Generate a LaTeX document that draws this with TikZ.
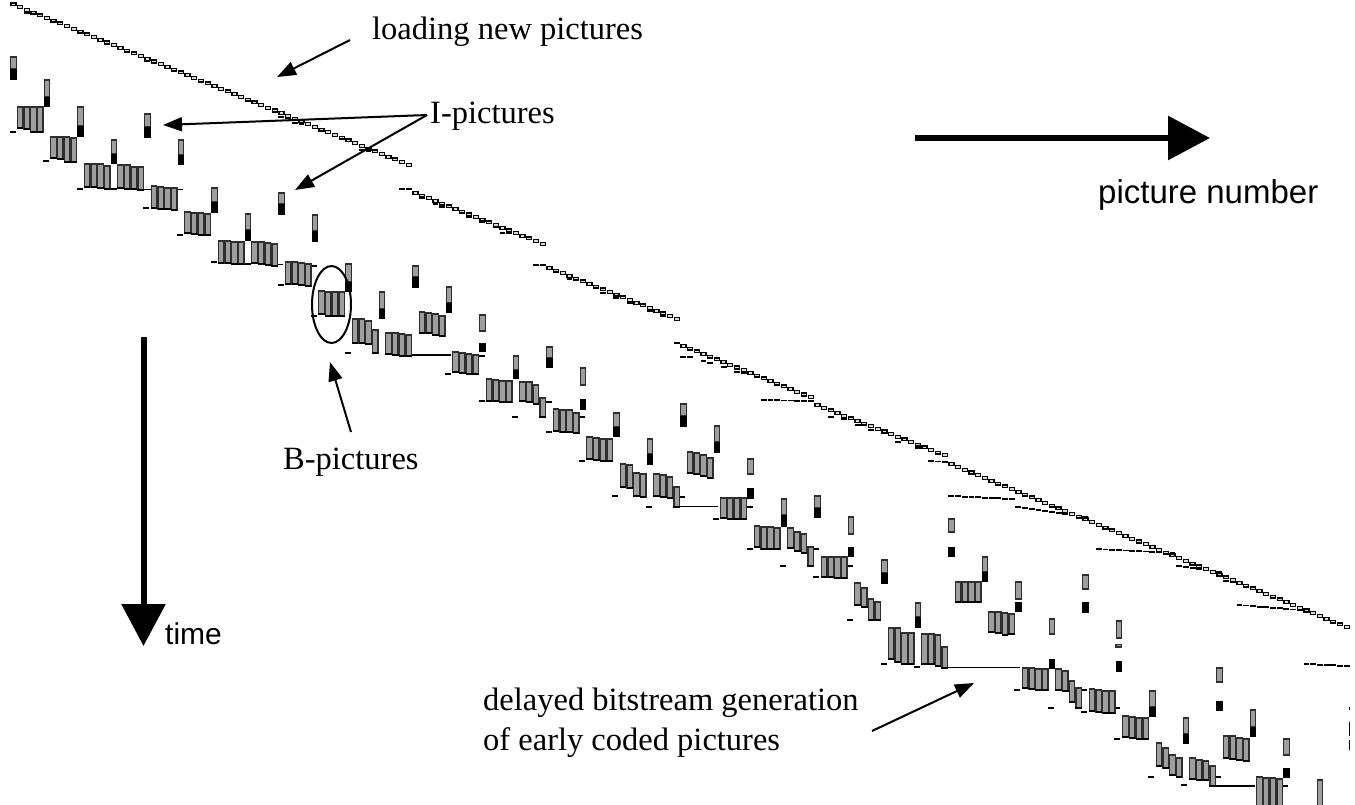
\documentclass[tikz,border=0pt]{standalone}
\usepackage{fontspec}
\setmainfont{Liberation Serif}
\newfontfamily\labelsans{Liberation Sans}
\usetikzlibrary{arrows.meta}
\definecolor{barfill}{gray}{0.62}
\definecolor{baredge}{gray}{0.18}
\definecolor{loadfill}{gray}{0.86}

\tikzset{
  bbar/.style={fill=barfill, draw=baredge, line width=1.2pt},
  bbot/.style={draw=black, line width=1.8pt},
  lrect/.style={fill=loadfill, draw=black, line width=1.25pt},
  bartick/.style={draw=black, line width=1.7pt},
  notearrow/.style={draw=black, line width=2pt, -{Triangle[length=19pt,width=14pt]}},
  bigarrow/.style={draw=black, line width=6pt, -{Triangle[length=42pt,width=43pt]}},
  serlabel/.style={font=\fontsize{32.5}{38}\selectfont, inner sep=0pt, anchor=base west},
  sanslabel/.style={font=\labelsans\fontsize{33}{38}\selectfont, inner sep=0pt, anchor=base west},
}

% I/P picture: grey coding interval on top, black output interval below
\newcommand\PBar[5]{%
  \pgfmathsetmacro\px{10+33.5*#1}%
  \draw[bbar] (\px+0.6,#2) rectangle (\px+6.1,#3);
  \fill[black] (\px+0.1,#4) rectangle (\px+6.6,#5);
}
% one B picture bar at left edge #1
\newcommand\BBar[3]{%
  \draw[bbar] (#1+0.6,#2) rectangle (#1+6.1,#3);
  \draw[bbot] (#1+0.1,#3) -- (#1+6.6,#3);
}
% four B pictures following I/P picture number 5*#1
\newcommand\BGrp[9]{%
  \pgfmathsetmacro\bxa{10+33.5*#1+6.7}%
  \pgfmathsetmacro\bxb{10+33.5*#1+13.4}%
  \pgfmathsetmacro\bxc{10+33.5*#1+20.1}%
  \pgfmathsetmacro\bxd{10+33.5*#1+26.8}%
  \BBar{\bxa}{#2}{#3}\BBar{\bxb}{#4}{#5}\BBar{\bxc}{#6}{#7}\BBar{\bxd}{#8}{#9}%
}
\newcommand\Tick[3]{\draw[bartick] (#1,#3) -- (#2,#3);}
% short mark under picture number #1
\newcommand\SDash[2]{\pgfmathsetmacro\sx{10+6.7*#1}\draw[bartick] (\sx+0.4,#2) -- (\sx+6.3,#2);}
% run of loading rectangles: first, last, top y of first, step
\newcommand\LoadRun[4]{%
  \foreach \i in {#1,...,#2}{%
    \pgfmathsetmacro\lx{10+6.7*\i}\pgfmathsetmacro\ly{#3+#4*(\i-#1)}%
    \draw[lrect] (\lx+0.9,\ly+0.5) rectangle (\lx+5.9,\ly+3.3);}}
% run of marks: first, last, y of first, y of last
\newcommand\DashRun[4]{%
  \foreach \i in {#1,...,#2}{%
    \pgfmathsetmacro\ldy{#3+(#4-#3)*(\i-#1)/max(1,#2-#1)}\SDash{\i}{\ldy}}}

\begin{document}
\begin{tikzpicture}[x=1pt,y=-1pt]
\useasboundingbox (0,0) rectangle (1355,804);

% ---- bitstream marks below the loading staircase
\SDash{2}{13}\SDash{3}{13.5}\SDash{20}{61}\SDash{31}{89.5}\SDash{38}{109.5}\SDash{39}{111}
\SDash{40}{117}\SDash{41}{118}\SDash{42}{123}\SDash{43}{124}\SDash{52}{150}\SDash{53}{151}
\DashRun{58}{59}{189}{189}
\SDash{61}{198}\SDash{63}{204}\SDash{64}{207}\SDash{68}{217}\SDash{70}{222}\SDash{72}{227}\SDash{73}{233}\SDash{74}{233}
\DashRun{78}{79}{265}{265}
\SDash{81}{271}\SDash{83}{279}\SDash{84}{279}\SDash{88}{293}\SDash{90}{298}\SDash{92}{303}\SDash{94}{306}\SDash{95}{311}\SDash{97}{316}
\SDash{99}{343}
\SDash{100}{357}\SDash{101}{357}\SDash{103}{361}\SDash{104}{363}\SDash{106}{367}\SDash{108}{372}\SDash{109}{373}\SDash{111}{377}
\DashRun{112}{119}{400}{401}
\SDash{121}{408}\SDash{122}{417}\SDash{124}{419}\SDash{126}{425}\SDash{128}{430}\SDash{130}{432}\SDash{132}{442}\SDash{135}{448}
\DashRun{137}{139}{461}{462}
\DashRun{140}{149}{496}{499}
\DashRun{150}{160}{507}{517}
\DashRun{162}{173}{549}{553}
\DashRun{174}{180}{566}{572}
\SDash{181}{581}\SDash{182}{582}
\DashRun{183}{192}{605}{610}
\DashRun{193}{199}{664}{666}

% ---- loading new pictures
\LoadRun{0}{59}{2.5}{2.72}
\LoadRun{60}{79}{191}{2.68}
\LoadRun{80}{99}{266}{2.68}
\LoadRun{100}{119}{344}{2.7}
\LoadRun{120}{139}{403.3}{2.63}
\LoadRun{140}{199}{462.3}{2.76}

% ---- marks between the picture bars
\Tick{10}{16}{132}\Tick{43}{49}{161}\Tick{77}{83}{189}\Tick{110}{117}{189}\Tick{143}{183}{189.5}
\Tick{143}{149}{208}\Tick{177}{183}{235}\Tick{211}{217}{262}\Tick{243}{251}{264}\Tick{277}{283}{264.5}
\Tick{278}{284}{285}\Tick{310}{317}{266}\Tick{311}{317}{316}\Tick{345}{351}{353}\Tick{411}{451}{355}
\Tick{478}{485}{356}\Tick{445}{451}{374}\Tick{479}{485}{401}\Tick{512}{518}{417}\Tick{546}{552}{402}
\Tick{546}{552}{432}\Tick{579}{585}{417}\Tick{579}{585}{461}\Tick{612}{618}{496}\Tick{646}{652}{507}
\Tick{679}{685}{497}\Tick{679}{718}{506.5}\Tick{713}{719}{519}\Tick{747}{753}{507}\Tick{747}{753}{549}
\Tick{780}{786}{566}\Tick{813}{819}{549}\Tick{813}{819}{577}\Tick{847}{853}{566}\Tick{847}{853}{620}
\Tick{881}{887}{664}\Tick{914}{920}{667}\Tick{947}{1020}{667.5}\Tick{1014}{1020}{690}\Tick{1048}{1054}{708}
\Tick{1081}{1087}{690}\Tick{1081}{1087}{712}\Tick{1114}{1120}{708}\Tick{1114}{1120}{739}\Tick{1148}{1154}{777}
\Tick{1181}{1187}{785}\Tick{1214}{1221}{777}\Tick{1214}{1255}{786}\Tick{1282}{1288}{786}

% ---- B pictures
\BGrp{0}{107}{128}{107}{129}{107}{132}{107}{132}
\BGrp{1}{137}{158}{137}{159}{137}{162}{138}{162}
\BGrp{2}{164}{187}{164}{187}{164}{188}{166}{189}
\BGrp{3}{165}{188}{165}{189}{167}{189}{167}{190}
\BGrp{4}{186}{208}{187}{209}{188}{209}{188}{210}
\BGrp{5}{212}{233}{213}{234}{213}{235}{214}{235}
\BGrp{6}{241}{263}{241}{263}{242}{264}{242}{264}
\BGrp{7}{242}{263}{242}{264}{243}{265}{244}{266}
\BGrp{8}{262}{284}{262}{284}{263}{285}{264}{286}
\BGrp{9}{291}{314}{292}{316}{292}{316}{292}{316}
\BGrp{10}{319}{343}{319}{343}{321}{344}{330}{353}
\BGrp{11}{333}{354}{333}{355}{334}{356}{335}{356}
\BGrp{12}{312}{333}{313}{333}{314}{335}{316}{336}
\BGrp{13}{352}{372}{353}{373}{354}{374}{355}{374}
\BGrp{14}{379}{401}{380}{401}{381}{402}{381}{402}
\BGrp{15}{382}{401}{382}{402}{385}{404}{398}{417}
\BGrp{16}{409}{431}{410}{432}{410}{432}{413}{433}
\BGrp{17}{437}{459}{438}{460}{439}{461}{439}{461}
\BGrp{18}{464}{487}{465}{488}{473}{496}{474}{497}
\BGrp{19}{474}{496}{475}{497}{477}{498}{487}{507}
\BGrp{20}{452}{473}{453}{474}{455}{476}{458}{478}
\BGrp{21}{498}{518}{498}{519}{498}{519}{498}{519}
\BGrp{22}{526}{547}{527}{549}{527}{549}{528}{549}
\BGrp{23}{528}{548}{532}{551}{534}{553}{547}{566}
\BGrp{24}{557}{577}{557}{577}{557}{578}{557}{578}
\BGrp{25}{583}{605}{588}{607}{599}{620}{602}{620}
\BGrp{26}{628}{659}{628}{662}{633}{664}{633}{664}
\BGrp{27}{634}{664}{634}{664}{635}{666}{647}{668}
\BGrp{28}{582}{602}{582}{602}{582}{602}{582}{602}
\BGrp{29}{612}{632}{612}{633}{613}{635}{614}{634}
\BGrp{30}{668}{688}{668}{689}{669}{690}{669}{690}
\BGrp{31}{669}{690}{671}{691}{681}{702}{688}{708}
\BGrp{32}{689}{711}{690}{712}{691}{713}{691}{713}
\BGrp{33}{716}{737}{717}{738}{718}{739}{718}{739}
\BGrp{34}{743}{766}{748}{768}{755}{775}{758}{777}
\BGrp{35}{758}{779}{760}{780}{761}{780}{766}{786}
\BGrp{36}{736}{758}{736}{759}{738}{760}{739}{761}
\BGrp{37}{777}{808}{778}{808}{778}{808}{779}{808}

% ---- I and P pictures
\PBar{0}{57}{69}{69}{80}
\PBar{1}{80}{97}{97}{107}
\PBar{2}{107}{126}{126}{137}
\PBar{3}{140}{154}{154}{164}
\PBar{4}{114}{127}{127}{138}
\PBar{5}{140}{155}{155}{165}
\PBar{6}{188}{202}{202}{213}
\PBar{7}{214}{230}{230}{241}
\PBar{8}{193}{204}{204}{215}
\PBar{9}{215}{231}{231}{242}
\PBar{10}{264}{282}{282}{292}
\PBar{11}{292}{309}{309}{319}
\PBar{12}{266}{277}{277}{288}
\PBar{13}{287}{303}{303}{313}
\PBar{14}{315}{331}{343}{352}
\PBar{15}{356}{370}{370}{379}
\PBar{16}{347}{358}{358}{368}
\PBar{17}{368}{385}{399}{410}
\PBar{18}{413}{427}{427}{437}
\PBar{19}{439}{454}{454}{465}
\PBar{20}{404}{416}{416}{427}
\PBar{21}{426}{442}{442}{453}
\PBar{22}{459}{474}{488}{499}
\PBar{23}{499}{515}{515}{527}
\PBar{24}{496}{508}{508}{518}
\PBar{25}{517}{534}{547}{557}
\PBar{26}{560}{573}{573}{584}
\PBar{27}{603}{617}{617}{628}
\PBar{28}{519}{532}{547}{557}
\PBar{29}{557}{572}{572}{582}
\PBar{30}{582}{599}{602}{612}
\PBar{31}{619}{634}{659}{669}
\PBar{32}{575}{589}{602}{613}
\PBar{33}{621}{638}{661}{672}
\PBar{34}{691}{707}{707}{717}
\PBar{35}{718}{734}{734}{744}
\PBar{36}{668}{682}{701}{711}
\PBar{37}{710}{727}{727}{737}
\PBar{38}{739}{755}{768}{778}
\PBar{39}{780}{808}{808}{808}
\draw[bbar] (1116,644.5) rectangle (1121.7,647);
\draw[black, line width=1.2pt] (1349.5,707) -- (1349.5,709.5) (1349.5,722) -- (1349.5,736) (1349.5,740) -- (1349.5,750);

% ---- highlighted B pictures
\draw[black, line width=2pt] (331.5,304.5) ellipse [x radius=19.5, y radius=38.5];

% ---- labels
\node[serlabel] (loadLbl) at (372,39) {loading new pictures};
\node[serlabel] (iLbl) at (430,123) {I-pictures};
\node[serlabel] (bLbl) at (283,469) {B-pictures};
\node[serlabel] (dLblA) at (483,710) {delayed bitstream generation};
\node[serlabel] (dLblB) at (483,750) {of early coded pictures};
\node[sanslabel] (pnLbl) at (1098,203) {picture number};
\node[sanslabel, font=\labelsans\fontsize{30}{36}\selectfont] (tLbl) at (165,644) {time};

% ---- pointers
\coordinate (loadTail) at (350,40);
\coordinate (loadTip) at (277,77);
\coordinate (iFork) at (427,115);
\coordinate (iTipA) at (163,125);
\coordinate (iTipB) at (295,190);
\coordinate (bTail) at (351,432);
\coordinate (bTip) at (330,362);
\coordinate (dTail) at (872,731);
\coordinate (dTip) at (974,683);
\coordinate (pnTail) at (915,138);
\coordinate (pnTip) at (1210,138);
\coordinate (tTail) at (143.5,337);
\coordinate (tTip) at (143.5,646);

\draw[notearrow] (loadTail) -- (loadTip);
\draw[notearrow] (iFork) -- (iTipA);
\draw[notearrow] (iFork) -- (iTipB);
\draw[notearrow] (bTail) -- (bTip);
\draw[notearrow] (dTail) -- (dTip);
\draw[bigarrow] (pnTail) -- (pnTip);
\draw[bigarrow] (tTail) -- (tTip);
\end{tikzpicture}
\end{document}
